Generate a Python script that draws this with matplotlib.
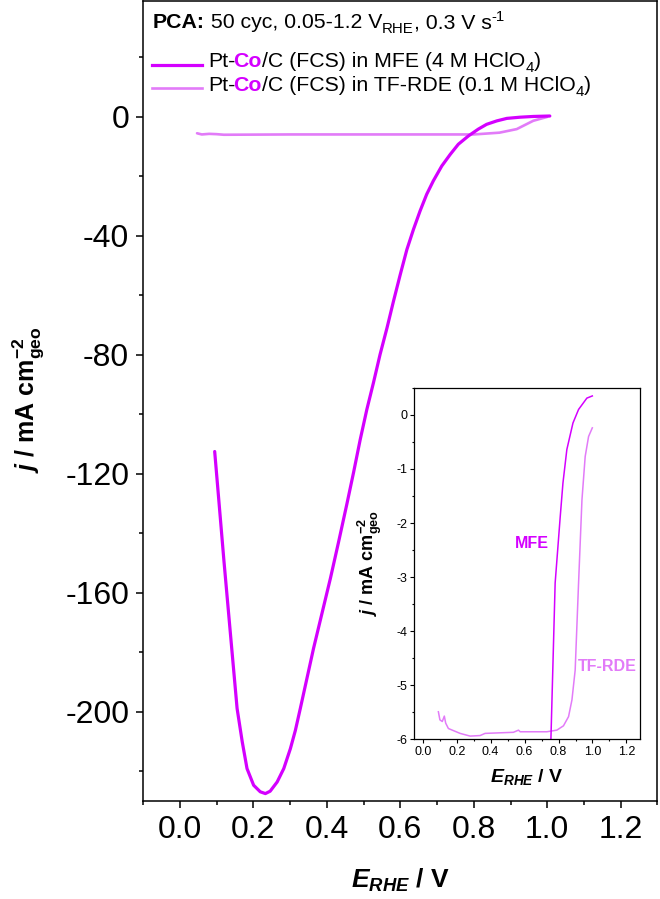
import matplotlib
matplotlib.use('Agg')
import matplotlib.pyplot as plt
from matplotlib.ticker import MultipleLocator

plt.rcParams['font.family'] = ['Liberation Sans', 'DejaVu Sans']
plt.rcParams['mathtext.fontset'] = 'custom'
plt.rcParams['mathtext.rm'] = 'Liberation Sans'
plt.rcParams['mathtext.it'] = 'Liberation Sans:italic'
plt.rcParams['mathtext.bf'] = 'Liberation Sans:bold'
try:
    plt.rcParams['mathtext.bfit'] = 'Liberation Sans:bold:italic'
except Exception:
    pass
plt.rcParams['axes.unicode_minus'] = False

# ---------------- data ----------------
# Main panel: Pt-Co/C in MFE (4 M HClO4)
mfe_E = [0.095, 0.106, 0.120, 0.138, 0.156, 0.170, 0.183, 0.201, 0.219, 0.233,
         0.246, 0.265, 0.283, 0.301, 0.3145, 0.328, 0.346, 0.364, 0.387, 0.410,
         0.432, 0.455, 0.473, 0.491, 0.509, 0.527, 0.545, 0.564, 0.5815, 0.600,
         0.618, 0.636, 0.654, 0.672, 0.690, 0.713, 0.736, 0.758, 0.7855, 0.8125,
         0.835, 0.8625, 0.890, 0.926, 0.962, 1.007]
mfe_j = [-112.5, -128.5, -149.0, -174.0, -198.9, -210.1, -219.1, -224.7, -226.9, -227.5,
         -226.7, -223.6, -219.1, -212.4, -206.3, -198.9, -188.8, -178.7, -166.9, -155.1,
         -143.0, -130.0, -119.5, -108.5, -98.4, -89.4, -79.9, -70.9, -62.0, -53.0,
         -44.6, -37.8, -31.6, -26.0, -21.5, -16.5, -12.6, -9.2, -6.4, -4.1,
         -2.5, -1.35, -0.5, -0.1, 0.15, 0.3]

# Main panel: Pt-Co/C in TF-RDE (0.1 M HClO4)
tf_E = [0.047, 0.060, 0.080, 0.100, 0.120, 0.300, 0.600, 0.800, 0.870, 0.917, 0.962, 1.000]
tf_j = [-5.5, -5.9, -5.7, -5.8, -6.0, -5.9, -5.9, -5.9, -5.3, -4.1, -1.3, 0.0]

# Inset: MFE
in_mfe_E = [0.752, 0.755, 0.780, 0.810, 0.826, 0.849, 0.885, 0.918, 0.967, 0.999]
in_mfe_j = [-6.30, -6.00, -3.11, -1.88, -1.26, -0.64, -0.15, 0.10, 0.31, 0.35]

# Inset: TF-RDE
in_tf_E = [0.092, 0.101, 0.115, 0.127, 0.135, 0.151, 0.220, 0.279, 0.338, 0.367,
           0.534, 0.564, 0.574, 0.731, 0.790, 0.829, 0.859, 0.879, 0.898, 0.918,
           0.938, 0.957, 0.977, 0.999]
in_tf_j = [-5.49, -5.64, -5.67, -5.57, -5.70, -5.80, -5.89, -5.94, -5.93, -5.89,
           -5.87, -5.83, -5.86, -5.86, -5.83, -5.75, -5.58, -5.27, -4.72, -3.11,
           -1.57, -0.77, -0.40, -0.24]

x_ticks = [0.0, 0.2, 0.4, 0.6, 0.8, 1.0, 1.2]
y_ticks_main = [0, -40, -80, -120, -160, -200]
y_ticks_inset = [0, -1, -2, -3, -4, -5, -6]

mfe_label = "Pt-Co/C (FCS) in MFE (4 M HClO4)"
tf_label = "Pt-Co/C (FCS) in TF-RDE (0.1 M HClO4)"

C_MFE = '#D400FF'
C_TF = '#E27BF8'

# ---------------- figure ----------------
fig = plt.figure(figsize=(6.60, 8.99), dpi=100)
ax = fig.add_axes([0.2167, 0.109, 0.7795, 0.890])

ax.plot(tf_E, tf_j, color=C_TF, lw=1.9, solid_capstyle='round', solid_joinstyle='round', zorder=2)
ax.plot(mfe_E, mfe_j, color=C_MFE, lw=2.3, solid_capstyle='round', solid_joinstyle='round', zorder=3)

ax.set_xlim(-0.1, 1.3)
ax.set_ylim(-230, 39)
ax.set_xticks(x_ticks)
ax.set_xticklabels([f"{v:.1f}" for v in x_ticks])
ax.set_yticks(y_ticks_main)
ax.set_yticklabels([str(v) for v in y_ticks_main])
ax.xaxis.set_minor_locator(MultipleLocator(0.1))
ax.yaxis.set_minor_locator(MultipleLocator(20))
ax.tick_params(which='major', direction='out', length=5, width=1.1, labelsize=23, pad=5)
ax.tick_params(which='minor', direction='out', length=2.6, width=1.1)
for s in ax.spines.values():
    s.set_linewidth(1.1)

fig.text(0.606, 0.021, r"$\mathbfit{E}_{\mathbfit{RHE}}$ / V", fontsize=19,
         fontweight='bold', ha='center', va='center')
fig.text(0.042, 0.555, r"$\mathbfit{j}$ / mA cm$^{\mathbf{-2}}_{\mathbf{geo}}$", fontsize=18,
         fontweight='bold', ha='center', va='center', rotation=90)

# ---- legend-like header ----
FS = 15.3
FS_S = 10.8


def chain_after(prev, txt, dy=0.0, dx=0.0, size=FS, ycoord=None, **kw):
    xyc = prev if ycoord is None else (prev, ycoord)
    return ax.annotate(txt, xy=(1, 0), xycoords=xyc, xytext=(dx, dy),
                       textcoords='offset points', fontsize=size,
                       va='bottom', ha='left', **kw)


h1 = ax.text(0.019, 0.9656, "PCA:", transform=ax.transAxes, fontsize=FS,
             fontweight='bold', va='baseline', ha='left')
h2 = chain_after(h1, " 50 cyc, 0.05-1.2 V")
h3 = chain_after(h2, "RHE", dy=-2.7, size=FS_S)
h4 = chain_after(h3, ", 0.3 V s", ycoord=h2)
h5 = chain_after(h4, "-1", dy=6.2, size=FS_S)


def legend_row(y_line, y_base, color, lw, label):
    ax.plot([0.0175, 0.114], [y_line, y_line], transform=ax.transAxes,
            color=color, lw=lw, clip_on=False)
    head, rest = label.split("Co", 1)
    body, tail = rest.rsplit("4", 1)
    t1 = ax.text(0.126, y_base, head, transform=ax.transAxes, fontsize=FS,
                 va='baseline', ha='left')
    t2 = chain_after(t1, "Co", dx=-1.2, fontweight='bold', color=C_MFE)
    t3 = chain_after(t2, body)
    t4 = chain_after(t3, "4", dy=-2.7, size=FS_S)
    chain_after(t4, tail, ycoord=t3)


legend_row(0.9203, 0.9173, C_MFE, 2.3, mfe_label)
legend_row(0.8910, 0.8873, C_TF, 1.9, tf_label)

# ---------------- inset ----------------
axi = fig.add_axes([0.6277, 0.1776, 0.342, 0.391])
axi.plot(in_tf_E, in_tf_j, color=C_TF, lw=1.1)
axi.plot(in_mfe_E, in_mfe_j, color=C_MFE, lw=1.1)
axi.set_xlim(-0.05, 1.28)
axi.set_ylim(-6, 0.5)
axi.set_xticks(x_ticks)
axi.set_xticklabels([f"{v:.1f}" for v in x_ticks])
axi.set_yticks(y_ticks_inset)
axi.set_yticklabels([str(v) for v in y_ticks_inset])
axi.xaxis.set_minor_locator(MultipleLocator(0.1))
axi.yaxis.set_minor_locator(MultipleLocator(0.5))
axi.tick_params(which='major', direction='out', length=3, width=0.8, labelsize=9, pad=2)
axi.tick_params(which='minor', direction='out', length=1.6, width=0.8)
for s in axi.spines.values():
    s.set_linewidth(0.9)

axi.text(0.641, -2.38, "MFE", color=C_MFE, fontsize=11.5, fontweight='bold',
         ha='center', va='center')
axi.text(1.087, -4.66, "TF-RDE", color=C_TF, fontsize=11.5, fontweight='bold',
         ha='center', va='center')

fig.text(0.7985, 0.1357, r"$\mathbfit{E}_{\mathbfit{RHE}}$ / V", fontsize=14,
         fontweight='bold', ha='center', va='center')
fig.text(0.5606, 0.3737, r"$\mathbfit{j}$ / mA cm$^{\mathbf{-2}}_{\mathbf{geo}}$", fontsize=13,
         fontweight='bold', ha='center', va='center', rotation=90)

fig.savefig('out.png', dpi=100)
